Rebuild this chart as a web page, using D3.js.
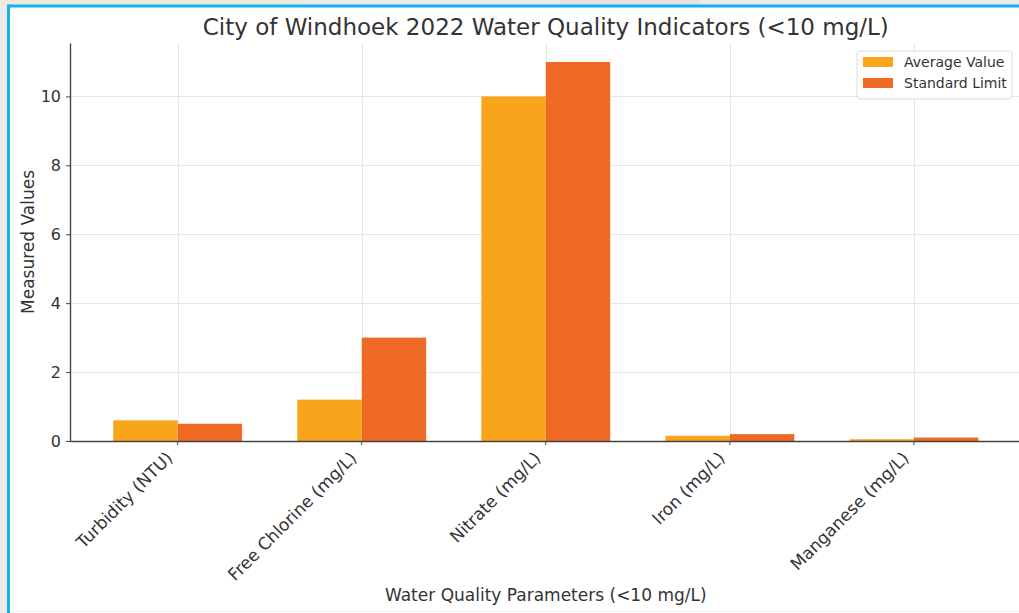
<!DOCTYPE html>
<html>
<head>
<meta charset="utf-8">
<script src="https://cdn.jsdelivr.net/npm/d3@7"></script>
<style>
  body { margin: 0; background: #ebebeb; }
  svg { display: block; font-family: "DejaVu Sans", sans-serif; }
</style>
</head>
<body>
<div class="chart"></div>
<script>
var categories = ['Turbidity (NTU)', 'Free Chlorine (mg/L)', 'Nitrate (mg/L)', 'Iron (mg/L)', 'Manganese (mg/L)'];
var series = ['Average Value', 'Standard Limit'];
var averageValues = [0.6, 1.2, 10, 0.15, 0.05];
var standardLimits = [0.5, 3, 11, 0.2, 0.1];
var yTicks = [0, 2, 4, 6, 8, 10];

var colors = { 'Average Value': '#f8a51c', 'Standard Limit': '#ef6a25' };

var W = 1019, H = 613;
var margin = { top: 43, left: 70, bottom: 172 };
var plotRight = 1021.6;
var y0 = H - margin.bottom;

var svg = d3.select('.chart')
  .append('svg')
    .attr('width', W)
    .attr('height', H);

// page frame
svg.append('rect').attr('x', 0).attr('y', 0).attr('width', W).attr('height', H).attr('fill', '#ebebeb');
svg.append('rect').attr('x', 0).attr('y', 0).attr('width', 300).attr('height', 5).attr('fill', '#f1ead8');
svg.append('rect').attr('x', 560).attr('y', 0).attr('width', 140).attr('height', 5).attr('fill', '#ecdfe3');
svg.append('rect').attr('x', 8.5).attr('y', 6).attr('width', W).attr('height', H).attr('fill', '#ffffff');
svg.append('line').attr('x1', 8.5).attr('x2', W).attr('y1', 6).attr('y2', 6)
  .attr('stroke', '#12b1ef').attr('stroke-width', 3);
svg.append('line').attr('x1', 8.5).attr('x2', 8.5).attr('y1', 4.5).attr('y2', H)
  .attr('stroke', '#12b1ef').attr('stroke-width', 3);
svg.append('line').attr('x1', 10).attr('x2', W).attr('y1', 611.5).attr('y2', 611.5)
  .attr('stroke', '#e6f5fb').attr('stroke-width', 1);

var x = d3.scaleBand()
  .domain(categories)
  .range([margin.left, plotRight])
  .paddingInner(0)
  .paddingOuter(0.085);

var step = x.bandwidth();
var xSub = d3.scaleBand()
  .domain(series)
  .range([-0.35 * step, 0.35 * step]);

var y = d3.scaleLinear()
  .domain([0, 11.55])
  .range([y0, margin.top]);

var center = d => x(d) + step / 2;

// grid
var grid = svg.append('g').attr('stroke', '#e6e6e6').attr('stroke-width', 1);
grid.selectAll('.hg')
  .data(yTicks)
  .enter()
  .append('line')
    .attr('x1', margin.left).attr('x2', W)
    .attr('y1', d => Math.round(y(d)) + 0.5).attr('y2', d => Math.round(y(d)) + 0.5);
grid.selectAll('.vg')
  .data(categories)
  .enter()
  .append('line')
    .attr('x1', d => Math.round(center(d)) + 0.5).attr('x2', d => Math.round(center(d)) + 0.5)
    .attr('y1', margin.top).attr('y2', y0);

// bars
var rows = categories.map((c, i) => ({ category: c, values: [
  { key: 'Average Value', value: averageValues[i] },
  { key: 'Standard Limit', value: standardLimits[i] }
]}));

svg.selectAll('.group')
  .data(rows)
  .enter()
  .append('g')
    .attr('transform', d => `translate(${center(d.category)},0)`)
  .selectAll('rect')
  .data(d => d.values)
  .enter()
  .append('rect')
    .attr('x', d => xSub(d.key))
    .attr('y', d => y(d.value))
    .attr('width', xSub.bandwidth())
    .attr('height', d => y0 - y(d.value))
    .attr('fill', d => colors[d.key]);

// axes
var yAxis = d3.axisLeft(y).tickValues(yTicks).tickSize(4).tickPadding(5).tickSizeOuter(0);
var gy = svg.append('g')
  .attr('transform', `translate(${margin.left},0)`)
  .call(yAxis);
gy.select('.domain').attr('stroke', '#444').attr('stroke-width', 1.4);
gy.selectAll('.tick line').attr('stroke', '#444');
gy.selectAll('text').attr('font-size', 16).attr('fill', '#333').attr('font-family', '"DejaVu Sans", sans-serif');

var xAxis = d3.axisBottom(x).tickSize(4).tickSizeOuter(0).tickFormat('');
var gx = svg.append('g')
  .attr('transform', `translate(0,${y0})`)
  .call(xAxis);
gx.select('.domain').attr('stroke', '#444').attr('stroke-width', 1.4);
gx.selectAll('.tick line').attr('stroke', '#444');

svg.selectAll('.xlabel')
  .data(categories)
  .enter()
  .append('text')
    .attr('transform', d => `translate(${center(d) - 4},${y0 + 18}) rotate(-45)`)
    .attr('text-anchor', 'end')
    .attr('font-size', 17)
    .attr('fill', '#333')
    .text(d => d);

// titles
svg.append('text')
  .attr('x', (margin.left + plotRight) / 2)
  .attr('y', 35)
  .attr('text-anchor', 'middle')
  .attr('font-size', 23)
  .attr('fill', '#333')
  .text('City of Windhoek 2022 Water Quality Indicators (<10 mg/L)');

svg.append('text')
  .attr('x', (margin.left + plotRight) / 2)
  .attr('y', 601)
  .attr('text-anchor', 'middle')
  .attr('font-size', 17)
  .attr('fill', '#333')
  .text('Water Quality Parameters (<10 mg/L)');

svg.append('text')
  .attr('transform', `translate(34,${(margin.top + y0) / 2}) rotate(-90)`)
  .attr('text-anchor', 'middle')
  .attr('font-size', 17)
  .attr('fill', '#333')
  .text('Measured Values');

// legend
var legend = svg.append('g').attr('transform', 'translate(857,51)');
legend.append('rect')
  .attr('width', 155).attr('height', 48).attr('rx', 3)
  .attr('fill', '#fff').attr('fill-opacity', 0.8)
  .attr('stroke', '#dcdcdc');
var items = legend.selectAll('.item')
  .data(series)
  .enter()
  .append('g')
    .attr('transform', (d, i) => `translate(6,${11 + i * 21})`);
items.append('rect')
  .attr('y', -5).attr('width', 30).attr('height', 10)
  .attr('fill', d => colors[d]);
items.append('text')
  .attr('x', 41).attr('y', 5)
  .attr('font-size', 14)
  .attr('fill', '#333')
  .text(d => d);
</script>
</body>
</html>
